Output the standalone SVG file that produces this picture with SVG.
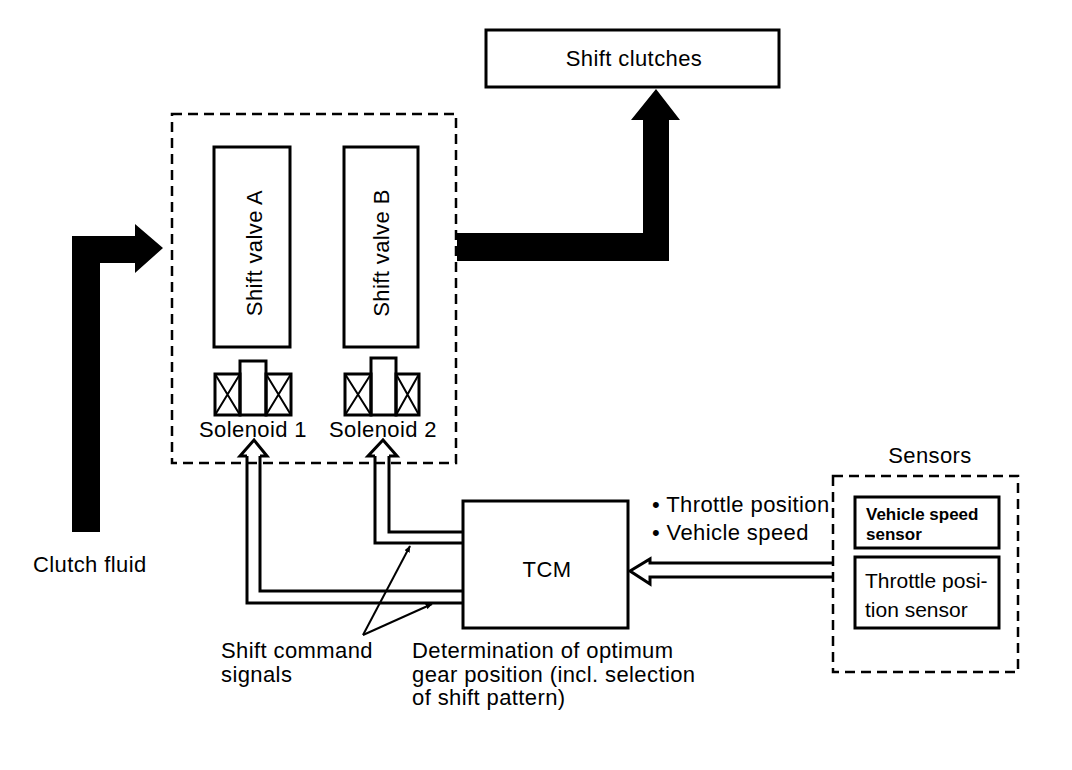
<svg xmlns="http://www.w3.org/2000/svg" width="1072" height="770" viewBox="0 0 1072 770">
<style>
text{font-family:"Liberation Sans",Arial,sans-serif;font-size:22px;letter-spacing:0.4px;fill:#000}
.box{fill:#fff;stroke:#000;stroke-width:3}
.dash{fill:none;stroke:#000;stroke-width:2.5;stroke-dasharray:10 6}
.ln{fill:none;stroke:#000;stroke-width:3}
.thin{fill:none;stroke:#000;stroke-width:2}
.solid{fill:#000;stroke:none}
.small{font-size:17px;font-weight:bold;letter-spacing:0}
.inbox{font-size:21px;letter-spacing:0}
</style>
<defs>
<marker id="tip" viewBox="0 0 10 10" refX="9" refY="5" markerWidth="7" markerHeight="7" orient="auto" markerUnits="userSpaceOnUse">
<path d="M0,1 L10,5 L0,9 z" fill="#000"/>
</marker>
</defs>
<rect width="1072" height="770" fill="#fff"/>

<g id="shift-clutches">
<rect class="box" x="486" y="30" width="293" height="57"/>
<text x="634" y="66" text-anchor="middle">Shift clutches</text>
</g>

<g id="valve-unit">
<rect class="dash" x="172" y="114" width="284" height="349"/>
</g>

<g id="shift-valve-a">
<rect class="box" x="214" y="147" width="76" height="200"/>
<text transform="translate(262,253) rotate(-90)" text-anchor="middle">Shift valve A</text>
</g>

<g id="shift-valve-b">
<rect class="box" x="344" y="147" width="74" height="200"/>
<text transform="translate(389,253) rotate(-90)" text-anchor="middle">Shift valve B</text>
</g>

<g id="solenoid-1">
<rect class="ln" x="215" y="374" width="25" height="41"/>
<path class="thin" d="M215,374 L240,415 M240,374 L215,415"/>
<rect class="ln" x="240" y="361" width="26" height="54"/>
<rect class="ln" x="266" y="374" width="25" height="41"/>
<path class="thin" d="M266,374 L291,415 M291,374 L266,415"/>
<text x="253" y="437" text-anchor="middle">Solenoid 1</text>
</g>

<g id="solenoid-2">
<rect class="ln" x="345" y="374" width="26" height="41"/>
<path class="thin" d="M345,374 L371,415 M371,374 L345,415"/>
<rect class="ln" x="371" y="358" width="25" height="57"/>
<rect class="ln" x="396" y="374" width="23" height="41"/>
<path class="thin" d="M396,374 L419,415 M419,374 L396,415"/>
<text x="383" y="437" text-anchor="middle">Solenoid 2</text>
</g>

<g id="tcm">
<rect class="box" x="463" y="501" width="165" height="127"/>
<text x="547" y="577" text-anchor="middle">TCM</text>
</g>

<g id="sensors">
<text x="930" y="463" text-anchor="middle">Sensors</text>
<rect class="dash" x="833" y="476" width="185" height="196"/>
<rect class="box" x="855" y="497" width="144" height="51"/>
<text x="866" y="520" class="small">Vehicle speed</text>
<text x="866" y="540" class="small">sensor</text>
<rect class="box" x="855" y="557" width="144" height="71"/>
<text x="865" y="588" class="inbox">Throttle posi-</text>
<text x="865" y="617" class="inbox">tion sensor</text>
</g>

<g id="labels">
<text x="33" y="572">Clutch fluid</text>
<text x="652" y="512">• Throttle position</text>
<text x="652" y="540">• Vehicle speed</text>
<text x="221" y="658">Shift command</text>
<text x="221" y="682">signals</text>
<text x="412" y="658">Determination of optimum</text>
<text x="412" y="682">gear position (incl. selection</text>
<text x="412" y="705">of shift pattern)</text>
</g>

<g id="connectors">
<polygon class="solid" points="72,532 72,236 135,236 135,224 163,248 135,273 135,263 100,263 100,532"/>
<polygon class="solid" points="457,233 643,233 643,120 631,120 656,89 680,120 669,120 669,261 457,261"/>
<path class="ln" d="M247,456 L247,603 L463,603 M260,456 L260,591 L463,591"/>
<path class="ln" d="M247,456 L240,456 L254,440 L267,456 L260,456"/>
<path class="ln" d="M375,456 L375,543 L463,543 M389,456 L389,532 L463,532"/>
<path class="ln" d="M375,456 L368,456 L383,440 L397,456 L389,456"/>
<path class="ln" d="M833,563 L650,563 L650,559 L630,571 L650,584 L650,577 L833,577"/>
<path class="thin" d="M363,635 L410,546" marker-end="url(#tip)"/>
<path class="thin" d="M363,635 L432,604" marker-end="url(#tip)"/>
</g>
</svg>
